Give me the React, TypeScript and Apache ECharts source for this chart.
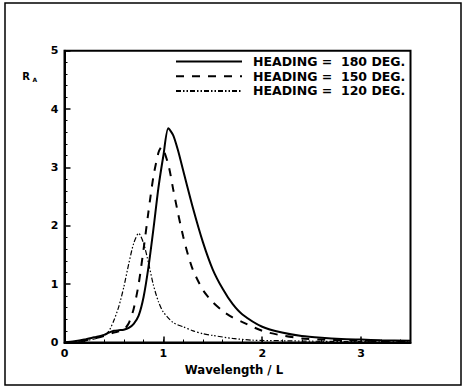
import React, { useEffect, useRef } from "react";
import * as echarts from "echarts";

const legendNames = ["HEADING =  180 DEG.", "HEADING =  150 DEG.", "HEADING =  120 DEG."];

const x180 = [0, 0.1, 0.2, 0.3, 0.4, 0.45, 0.5, 0.55, 0.6, 0.65, 0.7, 0.75, 0.8, 0.85, 0.9, 0.95, 1.0, 1.05, 1.1, 1.15, 1.2, 1.3, 1.4, 1.5, 1.6, 1.7, 1.8, 2.0, 2.2, 2.4, 2.6, 2.8, 3.0, 3.2, 3.5];
const y180 = [0, 0.02, 0.05, 0.09, 0.13, 0.17, 0.2, 0.21, 0.22, 0.25, 0.32, 0.46, 0.78, 1.3, 1.95, 2.65, 3.2, 3.67, 3.55, 3.28, 2.95, 2.3, 1.72, 1.25, 0.92, 0.66, 0.48, 0.27, 0.17, 0.11, 0.08, 0.06, 0.05, 0.04, 0.03];

const x150 = [0, 0.1, 0.2, 0.3, 0.4, 0.5, 0.55, 0.6, 0.65, 0.7, 0.75, 0.8, 0.85, 0.9, 0.95, 0.98, 1.05, 1.1, 1.15, 1.2, 1.25, 1.3, 1.4, 1.5, 1.6, 1.7, 1.8, 2.0, 2.2, 2.4, 2.6, 3.0, 3.5];
const y150 = [0, 0.01, 0.03, 0.07, 0.11, 0.17, 0.19, 0.22, 0.33, 0.58, 1.0, 1.6, 2.25, 2.85, 3.25, 3.35, 3.05, 2.62, 2.2, 1.82, 1.5, 1.24, 0.9, 0.69, 0.54, 0.43, 0.35, 0.2, 0.12, 0.07, 0.05, 0.03, 0.02];

const x120 = [0, 0.1, 0.2, 0.3, 0.4, 0.45, 0.5, 0.55, 0.6, 0.65, 0.7, 0.75, 0.8, 0.85, 0.9, 0.95, 1.0, 1.1, 1.2, 1.3, 1.4, 1.5, 1.7, 1.9, 2.2, 2.6, 3.0, 3.5];
const y120 = [0, 0.01, 0.03, 0.06, 0.12, 0.2, 0.38, 0.62, 0.95, 1.35, 1.7, 1.87, 1.7, 1.36, 0.98, 0.7, 0.52, 0.34, 0.27, 0.2, 0.15, 0.12, 0.07, 0.04, 0.03, 0.02, 0.015, 0.01];

const xTickLabels = [0, 1, 2, 3];
const yTickLabels = [0, 1, 2, 3, 4, 5];

const FONT = "DejaVu Sans";

function pairs(xs: number[], ys: number[]) {
  return xs.map((x, i) => [x, ys[i]]);
}

export default function App() {
  const ref = useRef<HTMLDivElement>(null);
  useEffect(() => {
    if (!ref.current) return;
    const chart = echarts.init(ref.current, null, { renderer: "svg" });
    const labelStyle = { color: "#000", fontFamily: FONT, fontWeight: "bold" as const, fontSize: 11 };
    chart.setOption({
      animation: false,
      backgroundColor: "#fff",
      color: ["#000", "#000", "#000"],
      grid: {
        left: 64.5,
        right: 52.5,
        top: 50.7,
        bottom: 44.5,
        show: true,
        borderColor: "#000",
        borderWidth: 2,
      },
      legend: {
        orient: "vertical",
        left: 175,
        top: 55,
        padding: 0,
        itemGap: 1.7,
        itemWidth: 66,
        itemHeight: 14,
        data: legendNames,
        selectedMode: false,
        itemStyle: { opacity: 0 },
        lineStyle: { opacity: 1 },
        textStyle: { color: "#000", fontFamily: FONT, fontWeight: "bold", fontSize: 12.5, padding: [0, 0, 0, 6] },
      },
      xAxis: [
        {
          type: "value",
          min: 0,
          max: 3.5,
          interval: 1,
          axisLine: { show: true, lineStyle: { color: "#000", width: 2 } },
          axisTick: { show: true, inside: true, length: 6, lineStyle: { color: "#000", width: 1.5 } },
          axisLabel: {
            ...labelStyle,
            margin: 5,
            showMaxLabel: false,
            formatter: (v: number) => (xTickLabels.includes(v) ? String(v) : ""),
          },
          splitLine: { show: false },
          name: "Wavelength / L",
          nameLocation: "middle",
          nameGap: 21,
          nameTextStyle: { color: "#000", fontFamily: FONT, fontWeight: "bold", fontSize: 11.7, padding: [0, 7, 0, 0] },
        },
        {
          type: "value",
          min: 0,
          max: 3.5,
          interval: 0.2,
          position: "bottom",
          axisLine: { show: false },
          axisTick: { show: true, inside: true, length: 3, lineStyle: { color: "#000", width: 1 } },
          axisLabel: { show: false },
          splitLine: { show: false },
        },
      ],
      yAxis: {
        type: "value",
        min: 0,
        max: 5,
        interval: 1,
        axisLine: { show: true, lineStyle: { color: "#000", width: 2 } },
        axisTick: { show: true, inside: true, length: 6, lineStyle: { color: "#000", width: 1.5 } },
        minorTick: { show: true, splitNumber: 5, length: 3, lineStyle: { color: "#000", width: 1 } },
        axisLabel: {
          ...labelStyle,
          margin: 6,
          formatter: (v: number) => (yTickLabels.includes(v) ? String(v) : ""),
        },
        splitLine: { show: false },
      },
      series: [
        {
          name: legendNames[0],
          type: "line",
          data: pairs(x180, y180),
          symbol: "none",
          smooth: 0.25,
          itemStyle: { color: "#000" },
          lineStyle: { color: "#000", width: 2, type: "solid" },
        },
        {
          name: legendNames[1],
          type: "line",
          data: pairs(x150, y150),
          symbol: "none",
          smooth: 0.25,
          itemStyle: { color: "#000" },
          lineStyle: { color: "#000", width: 2, type: [8, 8] },
        },
        {
          name: legendNames[2],
          type: "line",
          data: pairs(x120, y120),
          symbol: "none",
          smooth: 0.25,
          itemStyle: { color: "#000" },
          lineStyle: { color: "#000", width: 1.2, type: [5, 2, 1.5, 2, 1.5, 2] },
        },
      ],
      graphic: [
        {
          type: "rect",
          shape: { x: 5, y: 3, width: 456, height: 382 },
          style: { fill: "none", stroke: "#000", lineWidth: 1.5 },
          z: -1,
          silent: true,
        },
        {
          type: "text",
          x: 22.3,
          y: 71,
          style: { text: "R", fill: "#000", font: `bold 10px "${FONT}"` },
        },
        {
          type: "text",
          x: 32.5,
          y: 76.5,
          style: { text: "A", fill: "#000", font: `bold 6px "${FONT}"` },
        },
      ],
    });
    return () => chart.dispose();
  }, []);
  return (
    <div
      ref={ref}
      style={{ position: "absolute", left: 0, top: 0, width: 463, height: 387 }}
    />
  );
}
